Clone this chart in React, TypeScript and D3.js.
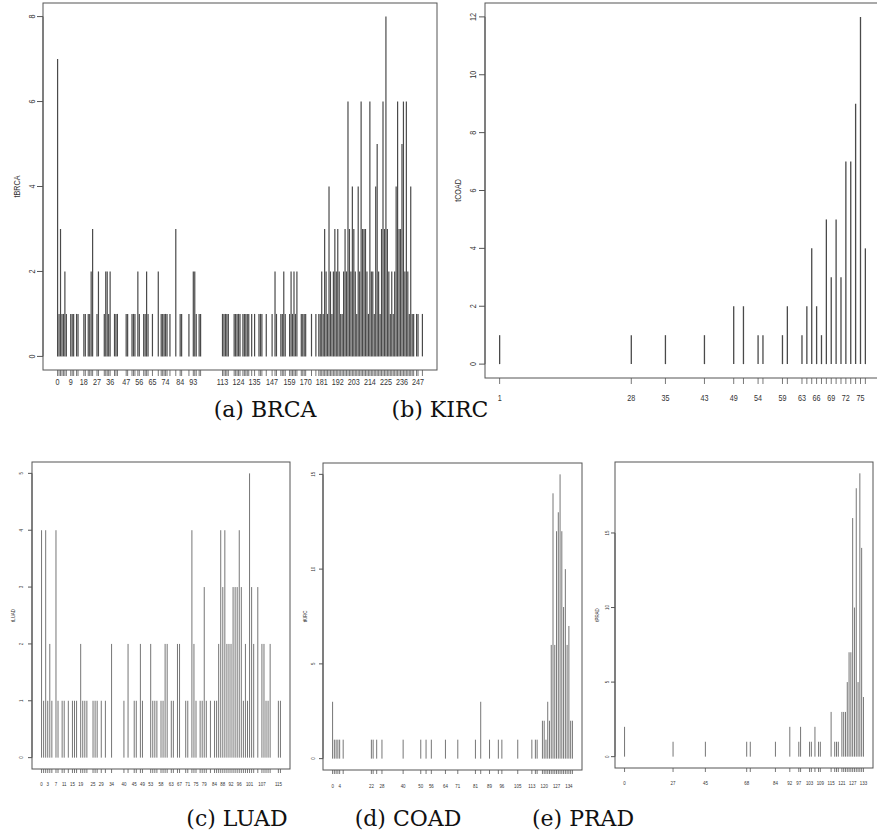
import React from "react";
import * as d3 from "d3";

// ---------- DATA ----------
// (a) BRCA : value -> frequency
const brcaValues = [0,1,2,3,4,5,6,9,10,11,13,14,18,19,21,22,23,24,27,28,32,33,34,35,36,39,40,41,47,48,51,52,53,55,56,59,60,61,62,65,69,71,72,73,74,75,77,81,84,85,90,93,94,95,97,98,113,114,115,116,117,121,122,123,124,125,127,128,129,130,131,133,135,138,139,140,143,147,149,150,153,154,155,156,159,160,161,162,163,164,167,168,169,170,174,177,179,180,181,182,183,184,185,186,187,188,189,190,191,192,193,194,195,196,197,198,199,200,201,202,203,204,205,206,207,208,209,210,211,212,213,214,215,216,217,218,219,220,221,222,223,224,225,226,227,228,229,230,231,232,233,234,235,236,237,238,239,240,241,242,243,244,246,247,250];
const brcaCounts = [7,1,3,1,1,2,1,1,1,1,1,1,1,1,1,1,2,3,1,2,1,2,2,1,2,1,1,1,1,1,1,1,1,2,1,1,1,2,1,1,2,1,1,1,1,1,1,3,1,1,1,2,2,1,1,1,1,1,1,1,1,1,1,1,1,1,1,1,1,1,1,1,1,1,1,1,1,1,2,1,1,1,2,1,1,2,1,2,1,2,1,1,1,1,1,1,1,1,2,1,3,2,1,4,2,1,2,3,2,3,2,1,1,2,3,2,6,3,2,4,3,2,1,4,2,6,3,3,3,2,1,6,2,2,1,4,5,2,1,3,6,3,8,3,2,1,2,1,2,4,6,3,3,5,6,2,6,2,1,4,1,1,1,1,1];
const brcaLabels = [0,9,18,27,36,47,56,65,74,84,93,113,124,135,147,159,170,181,192,203,214,225,236,247];
const brcaYTicks = [0,2,4,6,8];

// (b) KIRC (axis titled tCOAD)
const kircValues = [1,28,35,43,49,51,54,55,59,60,63,64,65,66,67,68,69,70,71,72,73,74,75,76];
const kircCounts = [1,1,1,1,2,2,1,1,1,2,1,2,4,2,1,5,3,5,3,7,7,9,12,4];
const kircLabels = [1,28,35,43,49,54,59,63,66,69,72,75];
const kircYTicks = [0,2,4,6,8,10,12];

// (c) LUAD
const luadValues = [0,1,2,3,4,5,7,8,10,11,13,15,16,17,19,20,21,22,25,26,27,29,31,34,40,42,45,46,48,49,53,54,55,56,58,59,60,61,63,64,66,67,70,71,73,74,75,77,78,79,80,82,84,85,86,87,88,89,90,91,92,93,94,95,96,97,98,99,100,101,102,103,105,107,108,109,110,111,115,116];
const luadCounts = [4,1,4,1,2,1,4,1,1,1,1,1,1,1,2,1,1,1,1,1,1,1,1,2,1,2,1,1,2,1,2,1,1,1,1,1,2,2,1,1,2,2,1,1,4,2,1,1,1,3,1,1,1,1,2,4,3,4,2,2,2,3,3,3,4,3,1,2,1,5,3,2,3,2,2,1,1,2,1,1];
const luadLabels = [0,3,7,11,15,19,25,29,34,40,45,49,53,58,63,67,71,75,79,84,88,92,96,101,107,115];
const luadYTicks = [0,1,2,3,4,5];

// (d) COAD (axis titled tKIRC)
const coadValues = [0,1,2,3,4,6,22,23,25,28,40,50,53,56,64,71,81,84,89,94,96,105,113,115,116,119,120,121,122,123,124,125,126,127,128,129,130,131,132,133,134,135,136];
const coadCounts = [3,1,1,1,1,1,1,1,1,1,1,1,1,1,1,1,1,3,1,1,1,1,1,1,1,2,2,1,3,2,6,14,6,12,13,15,12,8,10,6,7,2,2];
const coadLabels = [0,4,22,28,40,50,56,64,71,81,89,96,105,113,120,127,134];
const coadYTicks = [0,5,10,15];

// (e) PRAD
const pradValues = [0,27,45,68,70,84,92,97,98,103,104,106,108,109,115,117,118,119,121,122,123,124,125,126,127,128,129,130,131,132,133];
const pradCounts = [2,1,1,1,1,1,2,1,2,1,1,2,1,1,3,1,1,1,3,3,3,5,7,7,16,10,18,5,19,14,4];
const pradLabels = [0,27,45,68,84,92,97,103,109,115,121,127,133];
const pradYTicks = [0,5,10,15];

const captions = ["(a) BRCA", "(b) KIRC", "(c) LUAD", "(d) COAD", "(e) PRAD"];

// ---------- LAYOUT ----------
type Panel = {
  ylab: string; values: number[]; counts: number[]; labels: number[]; yTicks: number[];
  box: [number, number, number, number]; xDomain: [number, number]; yMax: number;
  ylabX: number; yTickX: number; xLabY: number; fs: number; tickLen: number; barW: number; barColor: string;
};

const panels: Panel[] = [
  { ylab: "tBRCA", values: brcaValues, counts: brcaCounts, labels: brcaLabels, yTicks: brcaYTicks,
    box: [43, 3, 437, 370], xDomain: [-10, 260], yMax: 8, ylabX: 17, yTickX: 32, xLabY: 385, fs: 9, tickLen: 6, barW: 1.2, barColor: "#4a4a4a" },
  { ylab: "tCOAD", values: kircValues, counts: kircCounts, labels: kircLabels, yTicks: kircYTicks,
    box: [485, 3, 880, 378], xDomain: [-2, 79], yMax: 12, ylabX: 458, yTickX: 473, xLabY: 401, fs: 9, tickLen: 6, barW: 1.3, barColor: "#4a4a4a" },
  { ylab: "tLUAD", values: luadValues, counts: luadCounts, labels: luadLabels, yTicks: luadYTicks,
    box: [32, 462, 290, 769], xDomain: [-4.64, 120.64], yMax: 5, ylabX: 13, yTickX: 21, xLabY: 786, fs: 5.5, tickLen: 4, barW: 0.9, barColor: "#666" },
  { ylab: "tKIRC", values: coadValues, counts: coadCounts, labels: coadLabels, yTicks: coadYTicks,
    box: [323, 463, 582, 770], xDomain: [-5.44, 141.44], yMax: 15, ylabX: 305, yTickX: 313, xLabY: 788, fs: 5.5, tickLen: 4, barW: 0.9, barColor: "#666" },
  { ylab: "tPRAD", values: pradValues, counts: pradCounts, labels: pradLabels, yTicks: pradYTicks,
    box: [615, 462, 873, 768], xDomain: [-5.32, 138.32], yMax: 19, ylabX: 597, yTickX: 607, xLabY: 785, fs: 5.5, tickLen: 4, barW: 0.9, barColor: "#666" },
];

const captionPos = [
  { x: 265, y: 417 }, { x: 440, y: 417 },
  { x: 237, y: 826 }, { x: 408, y: 826 }, { x: 583, y: 826 },
];

const sansFont = "'Liberation Sans', Arial, sans-serif";
const serifFont = "'DejaVu Serif', 'Liberation Serif', serif";

function PanelView({ p }: { p: Panel }) {
  const [l, t, r, b] = p.box;
  const x = d3.scaleLinear().domain(p.xDomain).range([l, r]);
  const pad = p.yMax * 0.04;
  const y = d3.scaleLinear().domain([-pad, p.yMax + pad]).range([b, t]);
  const axisColor = "#555";
  const textColor = "#333";
  const yt = p.yTicks;
  return (
    <g>
      <rect x={l} y={t} width={r - l} height={b - t} fill="none" stroke={axisColor} strokeWidth={1} />
      {p.values.map((v, i) => (
        <line key={"b" + i} x1={x(v)} x2={x(v)} y1={y(0)} y2={y(p.counts[i])} stroke={p.barColor} strokeWidth={p.barW} />
      ))}
      <line x1={l} x2={l} y1={y(yt[0])} y2={y(yt[yt.length - 1])} stroke={axisColor} />
      {yt.map((v) => (
        <g key={"yt" + v}>
          <line x1={l - p.tickLen} x2={l} y1={y(v)} y2={y(v)} stroke={axisColor} />
          <text transform={`translate(${p.yTickX},${y(v)}) rotate(-90) scale(0.8,1)`} textAnchor="middle" dy="0.35em"
            fontSize={p.fs} fill={textColor} style={{ fontFamily: sansFont }}>{v}</text>
        </g>
      ))}
      <text transform={`translate(${p.ylabX},${(t + b) / 2}) rotate(-90) scale(0.8,1)`} textAnchor="middle" dy="0.35em"
        fontSize={p.fs} fill={textColor} style={{ fontFamily: sansFont }}>{p.ylab}</text>
      {p.values.map((v, i) => (
        <line key={"xt" + i} x1={x(v)} x2={x(v)} y1={b} y2={b + p.tickLen} stroke={axisColor} strokeWidth={0.8} />
      ))}
      {p.labels.map((v) => (
        <text key={"xl" + v} transform={`translate(${x(v)},${p.xLabY}) scale(0.8,1)`} textAnchor="middle"
          fontSize={p.fs} fill={textColor} style={{ fontFamily: sansFont }}>{v}</text>
      ))}
    </g>
  );
}

export default function App() {
  return (
    <div style={{ position: "absolute", left: 0, top: 0, width: 877, height: 838, overflow: "hidden" }}>
      <svg width={877} height={838} viewBox="0 0 877 838" style={{ display: "block", background: "#fff" }}>
        <rect x={0} y={0} width={877} height={838} fill="#fff" />
        {panels.map((p, i) => <PanelView key={i} p={p} />)}
        {captions.map((c, i) => (
          <text key={c} x={captionPos[i].x} y={captionPos[i].y} textAnchor="middle" fontSize={22}
            style={{ fontFamily: serifFont }} fill="#111">{c}</text>
        ))}
      </svg>
    </div>
  );
}
